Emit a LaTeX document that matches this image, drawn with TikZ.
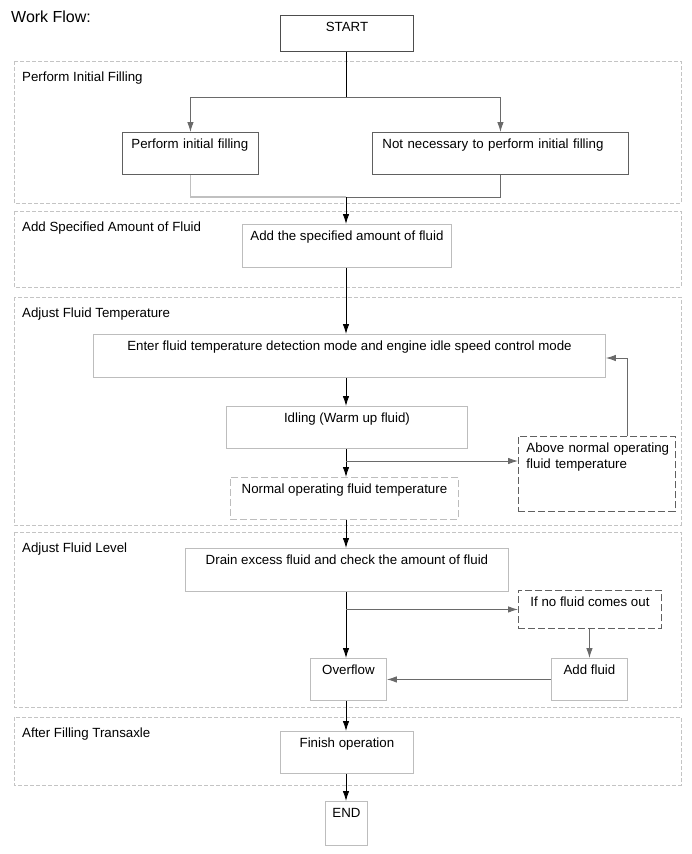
\documentclass[tikz,border=0pt]{standalone}
\usepackage{fontspec}
\setmainfont{Liberation Sans}
\usetikzlibrary{arrows.meta, positioning}
\definecolor{framegray}{HTML}{C4C4C4}
\definecolor{boxgray}{HTML}{BDBDBD}
\definecolor{darkbox}{HTML}{606060}
\definecolor{linegray}{HTML}{6A6A6A}
\definecolor{joingray}{HTML}{C0C0C0}

\begin{document}
\begin{tikzpicture}[x=1pt, y=-1pt, font=\fontsize{13.3}{16.5}\selectfont]
  \useasboundingbox (0,0) rectangle (691,854);

  % Styles for stages, boxes and connectors
  \tikzset{
    stage/.style={draw=framegray, line width=0.8pt, dash pattern=on 4pt off 2pt},
    stepbox/.style={draw=boxgray, line width=0.9pt, anchor=north west, inner xsep=0pt, inner ysep=0pt, align=center, text height=16pt},
    sized/.style 2 args={minimum width=#1pt, text depth=#2pt},
    leftbox/.style 2 args={inner xsep=#1pt, text width=#2pt, align=left},
    checkbox/.style={stepbox, draw=darkbox, dash pattern=on 7pt off 3pt},
    softcheck/.style={stepbox, dash pattern=on 7pt off 3pt},
    flow/.style={black, line width=0.9pt, -{Latex[length=10pt, width=6.5pt]}},
    side/.style={linegray, line width=0.9pt, -{Latex[length=10pt, width=6.5pt]}},
    stagelabel/.style={anchor=base west, inner sep=0pt}
  }

  \node[anchor=base west, inner sep=0pt, font=\fontsize{16}{16}\selectfont] (title) at (11,22) {Work Flow:};

  % Stage frames
  \draw[stage] (14,61) rectangle (681,203);
  \node[stagelabel] (stage1) at (22,81) {Perform Initial Filling};
  \draw[stage] (14,211) rectangle (681,287);
  \node[stagelabel] (stage2) at (22,231) {Add Specified Amount of Fluid};
  \draw[stage] (14,297) rectangle (681,525);
  \node[stagelabel] (stage3) at (22,317) {Adjust Fluid Temperature};
  \draw[stage] (14,532) rectangle (681,707);
  \node[stagelabel] (stage4) at (22,552) {Adjust Fluid Level};
  \draw[stage] (14,717) rectangle (681,785);
  \node[stagelabel] (stage5) at (22,737) {After Filling Transaxle};

  % Steps
  \node[stepbox, draw=darkbox!80!black, sized={133}{20}] (start) at (280,15) {START};
  \node[stepbox, draw=darkbox, sized={136}{26}, leftbox={9}{118}] (initfill) at (122,132) {\mbox{Perform initial filling}};
  \node[stepbox, draw=darkbox, sized={256}{26}, leftbox={10}{236}] (nofill) at (372,132) {Not necessary to perform initial filling};
  \node[stepbox, sized={209}{27}] (addspec) at (242,224) {Add the specified amount of fluid};
  \node[stepbox, sized={512}{27}] (detect) at (93,334) {Enter fluid temperature detection mode and engine idle speed control mode};
  \node[stepbox, sized={241}{26}] (idle) at (226,406) {Idling (Warm up fluid)};
  \node[softcheck, sized={228}{26}] (normal) at (230,477) {Normal operating fluid temperature};
  \node[checkbox, sized={157}{59}, leftbox={8}{141}] (hot) at (518,436) {\mbox{Above normal operating}\\fluid temperature};
  \node[stepbox, sized={323}{27}] (drain) at (185,548) {Drain excess fluid and check the amount of fluid};
  \node[checkbox, sized={143}{22}] (dry) at (518,590) {If no fluid comes out};
  \node[stepbox, sized={76}{26}] (addmore) at (551,658) {Add fluid};
  \node[stepbox, sized={76}{26}] (overflow) at (310,658) {Overflow};
  \node[stepbox, sized={133}{26}] (finish) at (280,731) {Finish operation};
  \node[stepbox, sized={42}{28}] (end) at (325,801) {END};

  % Branch and merge of the first stage
  \coordinate (split) at (346,97);
  \coordinate (merge) at (346,197);
  \draw[black, line width=0.9pt] (start.south -| split) -- (split);
  \draw[side] (split) -| (initfill.north);
  \draw[side] (split) -| (nofill.north);
  \draw[joingray, line width=1.6pt] (initfill.south) |- (merge);
  \draw[linegray, line width=0.9pt] (nofill.south) |- (merge);

  % Main line
  \draw[flow] (merge) -- (merge |- addspec.north);
  \draw[flow] (merge |- addspec.south) -- (merge |- detect.north);
  \draw[flow] (merge |- detect.south) -- (merge |- idle.north);
  \draw[flow] (merge |- idle.south) -- (merge |- normal.north);
  \draw[flow] (merge |- normal.south) -- (merge |- drain.north);
  \draw[flow] (merge |- drain.south) -- (merge |- overflow.north);
  \draw[flow] (merge |- overflow.south) -- (merge |- finish.north);
  \draw[flow] (merge |- finish.south) -- (merge |- end.north);

  % Loop back when too hot
  \coordinate (tohot) at (346,461);
  \coordinate (back) at (627,358);
  \draw[side] (tohot) -- (tohot -| hot.west);
  \draw[side] (back |- hot.north) -- (back) -- (back -| detect.east);

  % Refill when nothing comes out
  \draw[side] (merge |- dry.west) -- (dry.west);
  \draw[side] (dry.south -| addmore.north) -- (addmore.north);
  \draw[side] (addmore.west) -- (overflow.east);
\end{tikzpicture}
\end{document}
